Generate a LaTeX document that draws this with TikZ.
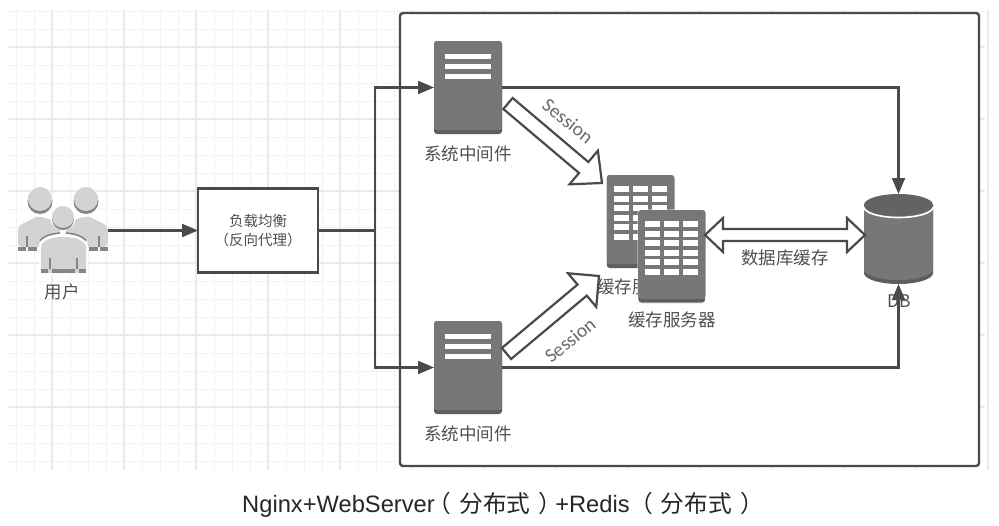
\documentclass[tikz,border=0pt]{standalone}
\usepackage{fontspec}
\usetikzlibrary{arrows.meta,calc}
\setmainfont{Liberation Sans}
\newfontfamily\cjk{Noto Sans CJK SC}
\newfontfamily\sessfont{Carlito}
\definecolor{inkc}{HTML}{4A4A4A}
\definecolor{txtc}{HTML}{505050}
\definecolor{bodyc}{HTML}{777777}
\definecolor{bandc}{HTML}{5E5E5E}
\definecolor{gridc}{HTML}{F3F3F3}
\definecolor{gridm}{HTML}{EBEBEB}
\definecolor{persc}{HTML}{D2D3D2}
\definecolor{persd}{HTML}{858585}
\newcommand{\blockarrow}[5]{% tail, tip, h, H, l
  \draw[blockline]
    ($(#1)!#3!90:(#2)$) -- ($(#2)!#5!(#1)!#3!-90:(#1)$) -- ($(#2)!#5!(#1)!#4!-90:(#1)$) -- (#2)
    -- ($(#2)!#5!(#1)!#4!90:(#1)$) -- ($(#2)!#5!(#1)!#3!90:(#1)$) -- ($(#1)!#3!-90:(#2)$) -- cycle;}
\tikzset{
  conn/.style={draw=inkc,line width=2.1pt},
  arr/.style={conn,-{Triangle[length=16pt,width=13pt,fill=inkc]}},
  blockline/.style={draw=inkc,fill=white,line width=2.2pt,line join=miter},
  lab/.style={text=txtc,font={\cjk\fontsize{17.5}{20}\selectfont},inner sep=0pt},
  srvbox/.style={fill=bandc,rounded corners=3pt,minimum width=68pt,minimum height=93pt,inner sep=0pt,outer sep=0pt},
  bldbox/.style={fill=bandc,rounded corners=3pt,minimum width=67.5pt,minimum height=93pt,inner sep=0pt,outer sep=0pt},
  ghost/.style={inner sep=0pt,outer sep=0pt},
  srvmarks/.pic={
    \fill[bodyc,rounded corners=3pt] (-34,-46.5) rectangle (34,42.5);
    \fill[white] (-23,-33.5) rectangle (23,-28.5);
    \fill[white] (-23,-23.5) rectangle (23,-18.5);
    \fill[white] (-23,-14) rectangle (23,-9);
  },
  bldmarks/.pic={
    \fill[bodyc,rounded corners=3pt] (-33.75,-46.5) rectangle (33.75,42.5);
    \foreach \cx in {-26.5,-7.5,11.5}
      \foreach \ry in {-35.5,-26,-16.5,-7,2.5,12}
        \fill[white] (\cx,\ry) rectangle ++(14.5,6);
  }
}
\begin{document}
\begin{tikzpicture}[x=1pt,y=-1pt]
\useasboundingbox (0,0) rectangle (999,525);
% grid
\foreach \i in {0,...,54}{
  \pgfmathsetmacro{\gx}{16+18*\i}
  \draw[gridc,line width=1pt] (\gx,10) -- (\gx,470);}
\foreach \i in {0,...,25}{
  \pgfmathsetmacro{\gy}{11+18*\i}
  \draw[gridc,line width=1pt] (8,\gy) -- (985,\gy);}
\foreach \i in {0,...,13}{
  \pgfmathsetmacro{\gx}{52+72*\i}
  \draw[gridm,line width=1.3pt] (\gx,10) -- (\gx,470);}
\foreach \i in {0,...,5}{
  \pgfmathsetmacro{\gy}{47+72*\i}
  \draw[gridm,line width=1.3pt] (8,\gy) -- (985,\gy);}
% outer frame
\draw[inkc,fill=white,line width=2.4pt,rounded corners=3pt] (400,13) rectangle (979,466);
% user icon
\node[ghost,minimum width=90pt,minimum height=90pt] (user) at (63,230.5) {};
\fill[persc,rounded corners=4pt] (18,247) -- (18,226) -- (38,216) -- (60,222) -- (60,247) -- cycle;
\fill[persc,rounded corners=4pt] (108,247) -- (108,226) -- (88,216) -- (66,222) -- (66,247) -- cycle;
\fill[persd] (18,247) rectangle (26,251);
\fill[persd] (28,247) rectangle (37,251);
\fill[persd] (89,247) rectangle (98,251);
\fill[persd] (100,247) rectangle (108,251);
\fill[persd] (26.3,236) rectangle (27.7,247);
\fill[persd] (98.3,236) rectangle (99.7,247);
\foreach \hx in {40,86}{
  \fill[white] (\hx,201) circle[radius=14pt];
  \fill[persd] (\hx,201.5) circle[radius=12.5pt];
  \fill[persc] (\hx,199) circle[radius=12pt];}
\fill[white] (39,275) -- (39,246) .. controls (39,238) and (50,233) .. (63,233) .. controls (76,233) and (88,238) .. (88,246) -- (88,275) -- cycle;
\draw[persd,line width=1.6pt] (40,240.5) .. controls (44,236) and (50,234) .. (60,233);
\draw[persd,line width=1.6pt] (86,240.5) .. controls (82,236) and (76,234) .. (66,233);
\fill[white] (63,217) circle[radius=13pt];
\fill[persd] (63,219) circle[radius=11pt];
\fill[persc] (63,217) circle[radius=11pt];
\fill[persc] (41,273) -- (41,248) .. controls (41,240) and (52,237) .. (63,237) .. controls (75,237) and (86,240) .. (86,248) -- (86,273) -- cycle;
\fill[persd] (41,269) rectangle (48,273);
\fill[persd] (52,269) rectangle (75,273);
\fill[persd] (79,269) rectangle (86,273);
\fill[persd] (49.3,258) rectangle (50.7,269);
\fill[persd] (76.3,258) rectangle (77.7,269);
\node[lab] (userlabel) at (62,292) {用户};
% load balancer
\node[draw=inkc,fill=white,line width=2.2pt,minimum width=120pt,minimum height=84pt,inner sep=0pt,outer sep=0pt,align=center,text=txtc,font={\cjk\fontsize{14.5}{19.5}\selectfont}] (lb) at (258,230.5) {负载均衡\\（反向代理）};
% servers
\node[srvbox] (s1) at (468,87.5) {};
\pic at (s1.center) {srvmarks};
\node[lab] (s1label) at (468,154) {系统中间件};
\node[srvbox] (s2) at (468,367.5) {};
\pic at (s2.center) {srvmarks};
\node[lab] (s2label) at (468,434) {系统中间件};
% cache servers
\node[bldbox] (cacheback) at (640.5,221.5) {};
\pic at (cacheback.center) {bldmarks};
\node[lab] (cachebacklabel) at (641,287) {缓存服务器};
\node[bldbox,draw=white,line width=0.8pt] (cache) at (671.75,256.5) {};
\pic at (cache.center) {bldmarks};
\node[lab] (cachelabel) at (672,320) {缓存服务器};
% db
\node[ghost,minimum width=69pt,minimum height=90pt] (db) at (898.5,239) {};
\node[lab] (dblabel) at (899,301) {DB};
\fill[bandc] (864,205) -- (864,273) arc[start angle=180,end angle=360,x radius=34.5pt,y radius=11pt] -- (933,205) -- cycle;
\fill[bodyc] (864,205) -- (864,269) arc[start angle=180,end angle=360,x radius=34.5pt,y radius=11pt] -- (933,205) -- cycle;
\draw[white,line width=1.6pt] (864,207) arc[start angle=180,end angle=360,x radius=34.5pt,y radius=10.5pt];
\fill[bandc!80!bodyc] (898.5,205) ellipse[x radius=34.5pt,y radius=11pt];
% connectors
\coordinate (junction) at (375,230.5);
\draw[arr] (user.east) -- (lb.west);
\draw[conn] (lb.east) -- (junction);
\draw[arr] (junction) |- (s1.west);
\draw[arr] (junction) |- (s2.west);
\draw[arr] (s1.east) -| (db.north);
\draw[arr] (s2.east) -| (db.south);
% block arrows
\coordinate (t1) at (508,103.5);
\coordinate (p1) at (602,183);
\coordinate (t2) at (506.5,353.5);
\coordinate (p2) at (599,276);
\blockarrow{t1}{p1}{7.2pt}{22pt}{24pt}
\blockarrow{t2}{p2}{7.2pt}{22pt}{22pt}
\coordinate (dl) at (705,235);
\coordinate (dr) at (865,235);
\draw[blockline] (dl) -- ($(dl)+(18,-17)$) -- ($(dl)+(18,-6)$) -- ($(dr)+(-18,-6)$) -- ($(dr)+(-18,-17)$) -- (dr)
  -- ($(dr)+(-18,17)$) -- ($(dr)+(-18,6)$) -- ($(dl)+(18,6)$) -- ($(dl)+(18,17)$) -- cycle;
\node[lab] (dblink) at (785,258) {数据库缓存};
\node[inner sep=0pt,text=txtc!85!white,rotate=-39,font={\sessfont\fontsize{19.5}{22}\selectfont}] (sess1) at (568,121) {Session};
\node[inner sep=0pt,text=txtc!85!white,rotate=39,font={\sessfont\fontsize{19.5}{22}\selectfont}] (sess2) at (570,340) {Session};
% title
\node[inner sep=0pt,text=black!85,font={\fontsize{23.7}{26}\selectfont}] (title) at (503,505) {Nginx+WebServer\hspace{-7pt}{\cjk（\hspace{8pt}分布式\hspace{8pt}）}\hspace{-7pt}+Redis\hspace{-7pt} {\cjk（\hspace{8pt}分布式\hspace{8pt}）}};
\end{tikzpicture}
\end{document}
